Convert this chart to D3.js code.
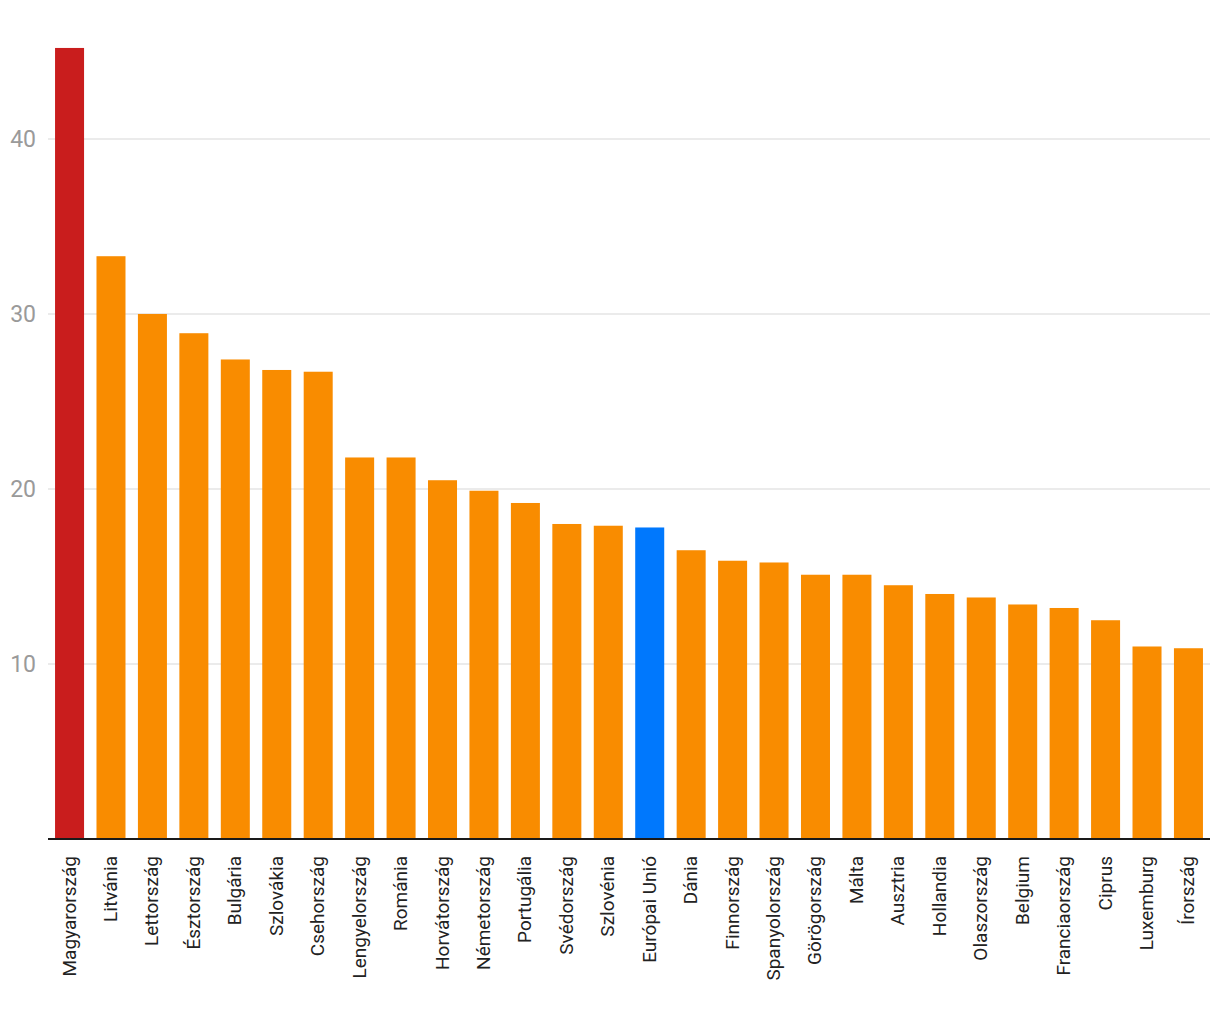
<!DOCTYPE html>
<html><head><meta charset="utf-8">
<script src="https://cdn.jsdelivr.net/npm/d3@7"></script>
<style>body{margin:0;background:#fff;}svg{display:block;font-family:Roboto,"Noto Sans",sans-serif;}</style>
</head><body>
<svg id="c" width="1220" height="1020"></svg>
<script>
const categories = ["Magyarország","Litvánia","Lettország","Észtország","Bulgária","Szlovákia","Csehország","Lengyelország","Románia","Horvátország","Németország","Portugália","Svédország","Szlovénia","Európai Unió","Dánia","Finnország","Spanyolország","Görögország","Málta","Ausztria","Hollandia","Olaszország","Belgium","Franciaország","Ciprus","Luxemburg","Írország"];
const values = [45.2,33.3,30.0,28.9,27.4,26.8,26.7,21.8,21.8,20.5,19.9,19.2,18.0,17.9,17.8,16.5,15.9,15.8,15.1,15.1,14.5,14.0,13.8,13.4,13.2,12.5,11.0,10.9];
const yTicks = [10,20,30,40];
const highlight = {"Magyarország":"#c91d1d","Európai Unió":"#0078fd"};
const baseColor = "#f98c00";

const svg = d3.select("#c");
const mLeft = 48, mRight = 1210, mTop = 0, mBottom = 839;
const x = d3.scaleBand().domain(categories).range([mLeft, mRight]).paddingInner(0.3).paddingOuter(0.17);
const y = d3.scaleLinear().domain([0, 47.94]).range([mBottom, mTop]);

// grid
svg.append("g").selectAll("line").data(yTicks).join("line")
  .attr("x1", mLeft).attr("x2", mRight)
  .attr("y1", d => y(d)).attr("y2", d => y(d))
  .attr("stroke", "#e4e4e4").attr("stroke-width", 1.5);

// y labels
svg.append("g").selectAll("text").data(yTicks).join("text")
  .attr("x", 36).attr("y", d => y(d)).attr("dy", "0.36em")
  .attr("text-anchor", "end").attr("fill", "#9a9a9a").attr("font-size", 23)
  .text(d => d);

// bars
svg.append("g").selectAll("rect").data(categories).join("rect")
  .attr("x", d => x(d)).attr("width", x.bandwidth())
  .attr("y", (d,i) => y(values[i])).attr("height", (d,i) => y(0) - y(values[i]))
  .attr("fill", d => highlight[d] || baseColor);

// baseline
svg.append("line").attr("x1", mLeft).attr("x2", mRight)
  .attr("y1", y(0)).attr("y2", y(0)).attr("stroke", "#1a1a1a").attr("stroke-width", 2);

// x labels
svg.append("g").selectAll("text").data(categories).join("text")
  .attr("transform", d => `translate(${x(d) + x.bandwidth()/2 + 6},${856}) rotate(-90)`)
  .attr("text-anchor", "end").attr("fill", "#222").attr("font-size", 19)
  .text(d => d);
</script>
</body></html>
